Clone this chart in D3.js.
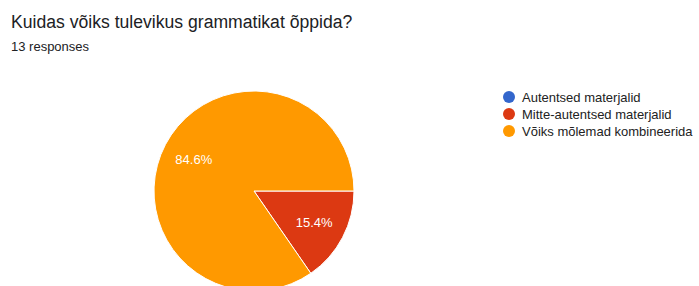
<!DOCTYPE html>
<html><head><meta charset="utf-8">
<script src="https://cdn.jsdelivr.net/npm/d3@7"></script>
<style>body{margin:0;background:#fff;}svg{display:block;}</style>
</head><body>
<script>
const title = "Kuidas võiks tulevikus grammatikat õppida?";
const subtitle = "13 responses";
const categories = ["Autentsed materjalid", "Mitte-autentsed materjalid", "Võiks mõlemad kombineerida"];
const counts = [0, 2, 11];
const colors = ["#3366cc", "#dc3912", "#ff9900"];

const W = 699, H = 286;
const svg = d3.select("body").append("svg").attr("width", W).attr("height", H);
const font = "'Liberation Sans', Arial, sans-serif";

svg.append("text").attr("x", 11).attr("y", 28).attr("font-family", font)
  .attr("font-size", 17.6).attr("fill", "#202124").text(title);
svg.append("text").attr("x", 11).attr("y", 51).attr("font-family", font)
  .attr("font-size", 13).attr("fill", "#202124").text(subtitle);

const cx = 254, cy = 191, r = 100;
const total = d3.sum(counts);
const pie = d3.pie().sort(null).value(d => d.v)
  .startAngle(Math.PI / 2).endAngle(Math.PI / 2 + 2 * Math.PI);
const data = categories.map((c, i) => ({c, v: counts[i], col: colors[i]}));
const arcs = pie(data);
const arc = d3.arc().innerRadius(0).outerRadius(r);
const labelArc = d3.arc().innerRadius(r * 0.68).outerRadius(r * 0.68);
const g = svg.append("g").attr("transform", `translate(${cx},${cy})`);
g.selectAll("path").data(arcs.filter(a => a.data.v > 0)).join("path")
  .attr("d", arc).attr("fill", d => d.data.col)
  .attr("stroke", "#fff").attr("stroke-width", 1);
g.selectAll("text").data(arcs.filter(a => a.data.v > 0)).join("text")
  .attr("transform", d => `translate(${labelArc.centroid(d)})`)
  .attr("text-anchor", "middle").attr("dy", "0.35em")
  .attr("font-family", font).attr("font-size", 13).attr("fill", "#fff")
  .text(d => (d.data.v / total * 100).toFixed(1) + "%");

const leg = svg.append("g").attr("transform", "translate(509,97)");
const rows = leg.selectAll("g").data(data).join("g")
  .attr("transform", (d, i) => `translate(0,${i * 17})`);
rows.append("circle").attr("r", 6).attr("fill", d => d.col);
rows.append("text").attr("x", 13).attr("dy", "0.35em").attr("font-family", font)
  .attr("font-size", 13).attr("fill", "#222").text(d => d.c);
</script>
</body></html>
